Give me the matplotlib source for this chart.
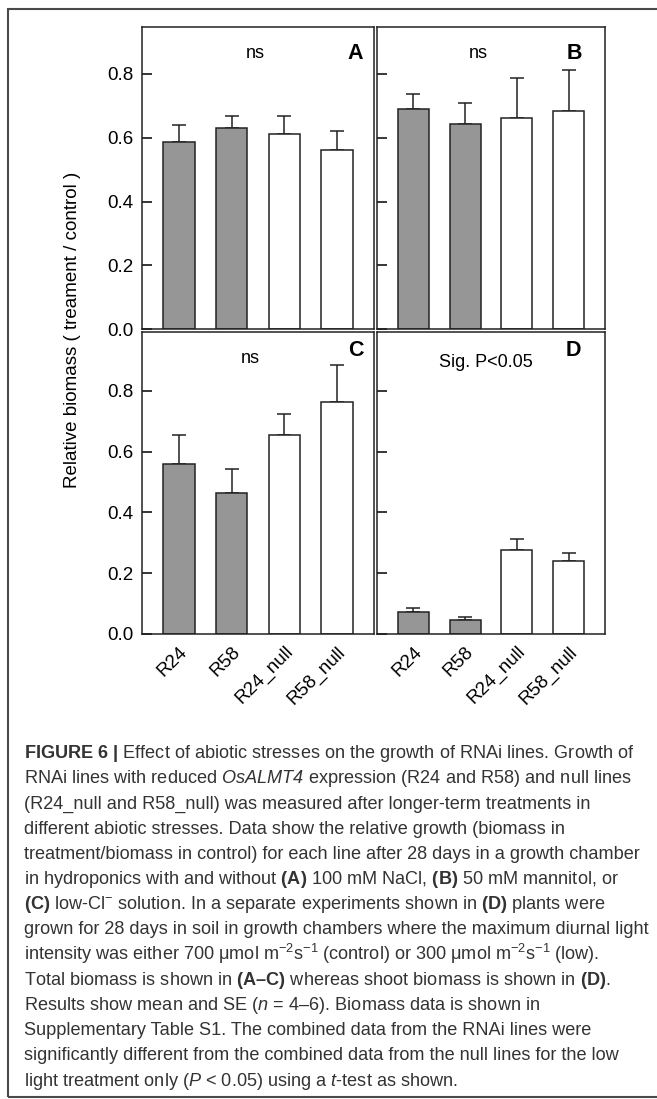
import matplotlib
matplotlib.use("Agg")
import matplotlib.pyplot as plt
import numpy as np
from matplotlib.patches import Rectangle

plt.rcParams['font.family'] = ['Liberation Sans', 'DejaVu Sans']
plt.rcParams['mathtext.fontset'] = 'custom'
plt.rcParams['mathtext.rm'] = 'Liberation Sans'
plt.rcParams['mathtext.it'] = 'Liberation Sans:italic'
plt.rcParams['mathtext.bf'] = 'Liberation Sans:bold'
plt.rcParams['mathtext.sf'] = 'Liberation Sans:italic'  # italic that keeps digits slanted

## data
lines = ["R24", "R58", "R24_null", "R58_null"]
fills = ["#969696", "#969696", "white", "white"]

mean_A = [0.586, 0.632, 0.613, 0.561]
se_A = [0.053, 0.035, 0.054, 0.059]
mean_B = [0.689, 0.643, 0.663, 0.685]
se_B = [0.048, 0.065, 0.125, 0.127]
mean_C = [0.558, 0.463, 0.655, 0.764]
se_C = [0.096, 0.081, 0.069, 0.120]
mean_D = [0.072, 0.046, 0.275, 0.240]
se_D = [0.013, 0.009, 0.036, 0.026]

panels = [("A", "ns", mean_A, se_A), ("B", "ns", mean_B, se_B),
          ("C", "ns", mean_C, se_C), ("D", "Sig. P<0.05", mean_D, se_D)]

W, H = 657, 1099
fig = plt.figure(figsize=(W/100, H/100), dpi=100)

# outer frame of the figure box
fig.patches.append(Rectangle((8/W, 1-1097/H), 700/W, (1097-9)/H, transform=fig.transFigure,
                             fill=False, edgecolor='#4a4a4a', linewidth=1.5))

# axes boxes in pixels: left, right, top, bottom
boxes = {"A": (142, 374, 26.7, 329.3), "B": (377, 605, 26.7, 329.3),
         "C": (142, 374, 332, 634), "D": (377, 605, 332, 634)}
ytop = {"A": 0.948, "B": 0.948, "C": 0.993, "D": 0.993}
lab_pos = {"A": (0.92, 0.912), "B": (0.865, 0.912), "C": (0.92, 0.938), "D": (0.86, 0.938)}
note_pos = {"A": (0.49, 0.912), "B": (0.445, 0.912), "C": (0.466, 0.913), "D": (0.476, 0.90)}

x = np.arange(1, 5)
for name, note, m, e in panels:
    l, r, t, b = boxes[name]
    ax = fig.add_axes([l/W, 1-b/H, (r-l)/W, (b-t)/H])
    ax.bar(x, m, width=0.6, color=fills, edgecolor='#222222', linewidth=1.1, zorder=2)
    ax.errorbar(x, m, yerr=[np.zeros(4), e], fmt='none', ecolor='#222222',
                elinewidth=1.1, capsize=5, capthick=1.1, zorder=1)
    ax.set_xlim(0.3, 4.7)
    ax.set_ylim(0, ytop[name])
    ax.set_yticks([0, 0.2, 0.4, 0.6, 0.8])
    ax.set_yticklabels(["0.0", "0.2", "0.4", "0.6", "0.8"])
    ax.set_xticks(x)
    for s in ax.spines.values():
        s.set_linewidth(1.1)
        s.set_color('#222222')
    ax.tick_params(axis='y', direction='in', length=7, width=1.1, labelsize=13.5, pad=6,
                   right=False, labelleft=name in ("A", "C"))
    if name in ("C", "D"):
        ax.set_xticklabels(lines, rotation=45, ha='right', rotation_mode='anchor', fontsize=13.5)
        ax.tick_params(axis='x', length=0, pad=6.5)
    else:
        ax.set_xticklabels([])
        ax.tick_params(axis='x', length=0)
    ax.text(*lab_pos[name], name, transform=ax.transAxes, ha='center', va='center',
            fontsize=15.5, fontweight='bold')
    ax.text(*note_pos[name], note, transform=ax.transAxes, ha='center', va='center', fontsize=13)

fig.text(73/W, 1-330/H, "Relative biomass ( treament / control )", rotation=90,
         ha='center', va='center', fontsize=13.5)

caption = [
    r"$\mathbf{FIGURE\ 6\ |}$ Effect of abiotic stresses on the growth of RNAi lines. Growth of",
    r"RNAi lines with reduced $\mathsf{OsALMT4}$ expression (R24 and R58) and null lines",
    "(R24_null and R58_null) was measured after longer-term treatments in",
    "different abiotic stresses. Data show the relative growth (biomass in",
    "treatment/biomass in control) for each line after 28 days in a growth chamber",
    r"in hydroponics with and without $\mathbf{(A)}$ 100 mM NaCl, $\mathbf{(B)}$ 50 mM mannitol, or",
    r"$\mathbf{(C)}$ low-$\mathrm{Cl}^{-}$ solution. In a separate experiments shown in $\mathbf{(D)}$ plants were",
    "grown for 28 days in soil in growth chambers where the maximum diurnal light",
    r"intensity was either 700 μmol $\mathrm{m}^{-2}\mathrm{s}^{-1}$ (control) or 300 μmol $\mathrm{m}^{-2}\mathrm{s}^{-1}$ (low).",
    r"Total biomass is shown in $\mathbf{(A–C)}$ whereas shoot biomass is shown in $\mathbf{(D)}$.",
    r"Results show mean and SE ($\mathit{n}$ = 4–6). Biomass data is shown in",
    "Supplementary Table S1. The combined data from the RNAi lines were",
    "significantly different from the combined data from the null lines for the low",
    r"light treatment only ($\mathit{P}$ < 0.05) using a $\mathit{t}$-test as shown.",
]
texts = []
for i, line in enumerate(caption):
    y = 758 + i*25.2
    texts.append(fig.text(24/W, 1-y/H, line, ha='left', va='baseline', fontsize=11.5, color='#333333'))

# fit the caption width to the box
rend = fig.canvas.get_renderer()
maxw = max(t.get_window_extent(rend).width for t in texts)
k = 628.0/maxw
for t in texts:
    t.set_fontsize(11.5*k)

fig.savefig("out.png", dpi=100)
